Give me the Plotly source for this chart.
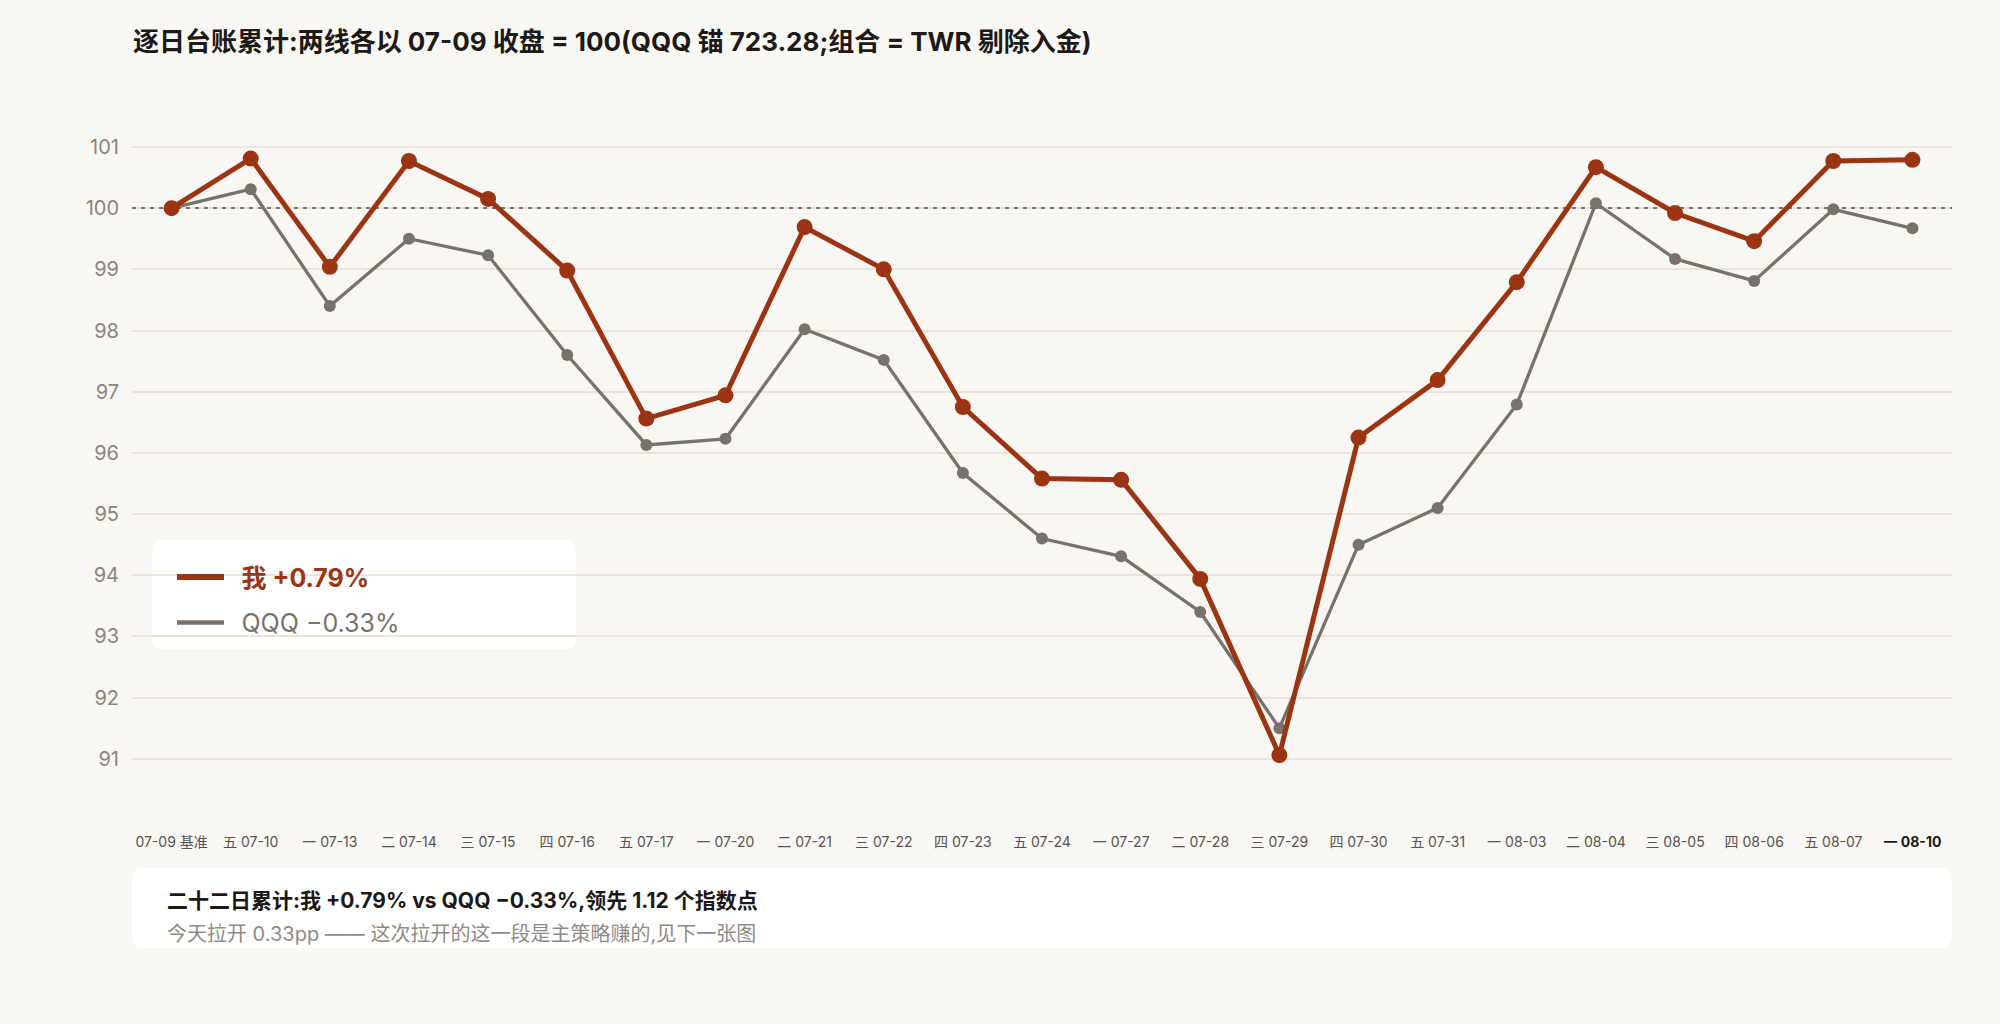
import plotly.graph_objects as go

# 日期标签(含星期)
days = ['07-09 基准', '五 07-10', '一 07-13', '二 07-14', '三 07-15', '四 07-16',
        '五 07-17', '一 07-20', '二 07-21', '三 07-22', '四 07-23', '五 07-24',
        '一 07-27', '二 07-28', '三 07-29', '四 07-30', '五 07-31', '一 08-03',
        '二 08-04', '三 08-05', '四 08-06', '五 08-07', '一 08-10']

# 我的组合 (TWR, 07-09 = 100)
me = [100, 100.81, 99.04, 100.77, 100.15, 98.98, 96.56, 96.94, 99.69, 99.00,
      96.75, 95.58, 95.56, 93.94, 91.06, 96.25, 97.19, 98.79, 100.67, 99.92,
      99.46, 100.77, 100.79]

# QQQ (07-09 收盘 723.28 = 100)
qqq = [100, 100.31, 98.40, 99.50, 99.23, 97.60, 96.13, 96.23, 98.02, 97.52,
       95.67, 94.60, 94.31, 93.40, 91.50, 94.50, 95.10, 96.79, 100.08, 99.17,
       98.81, 99.98, 99.67]

yticks = [91, 92, 93, 94, 95, 96, 97, 98, 99, 100, 101]
base = [100]

RED = '#9a3412'
GRAY = '#78716c'
BG = '#f9f7f3'
FONT = "Inter, 'Noto Sans CJK SC', sans-serif"
YRANGE = [90.0, 101.8]

ticktext = days[:-1] + ["<b><span style='color:#1c1917'>" + days[-1] + "</span></b>"]


def rrect(x0, y0, x1, y1, r):
    # rounded rectangle path in pixels (y up)
    return (f"M{x0 + r},{y0} L{x1 - r},{y0} Q{x1},{y0} {x1},{y0 + r} "
            f"L{x1},{y1 - r} Q{x1},{y1} {x1 - r},{y1} L{x0 + r},{y1} "
            f"Q{x0},{y1} {x0},{y1 - r} L{x0},{y0 + r} Q{x0},{y0} {x0 + r},{y0} Z")


fig = go.Figure()
# empty trace so the overlay axis (100 baseline) gets drawn
fig.add_trace(go.Scatter(x=[None], y=[None], yaxis='y2', showlegend=False, hoverinfo='skip'))
fig.add_trace(go.Scatter(
    x=days, y=qqq, mode='lines+markers', name='QQQ',
    line=dict(color=GRAY, width=3.3), marker=dict(color=GRAY, size=12),
    showlegend=False))
fig.add_trace(go.Scatter(
    x=days, y=me, mode='lines+markers', name='我',
    line=dict(color=RED, width=5), marker=dict(color=RED, size=16),
    showlegend=False))

# legend entries (line only, no marker)
fig.add_trace(go.Scatter(
    x=[None], y=[None], mode='lines',
    name="<span style='color:#9a3412'><b>\u2002我 +0.79%</b></span>",
    line=dict(color=RED, width=6), legendrank=1, legendgroup='a'))
fig.add_trace(go.Scatter(
    x=[None], y=[None], mode='lines',
    name="<span style='color:#78716c'>\u2002QQQ −0.33%</span>",
    line=dict(color=GRAY, width=4.5), legendrank=2, legendgroup='b'))

# 图例底框
fig.add_shape(type='path', xref='paper', yref='paper', xsizemode='pixel', ysizemode='pixel',
              xanchor=0, yanchor=0, path=rrect(20, 171, 444, 280, 12),
              fillcolor='white', line=dict(width=0), layer='between')

# 底部说明框
fig.add_shape(type='path', xref='paper', yref='paper', xsizemode='pixel', ysizemode='pixel',
              xanchor=0, yanchor=0, path=rrect(0, -128, 1820, -48, 12),
              fillcolor='white', line=dict(width=0), layer='below')

fig.add_annotation(xref='paper', yref='paper', x=0.0181, y=-0.1118, xanchor='left', yanchor='middle',
                   text='<b>二十二日累计:我 +0.79% vs QQQ −0.33%,领先 1.12 个指数点</b>',
                   showarrow=False, font=dict(size=21, color='#1c1917', family=FONT))
fig.add_annotation(xref='paper', yref='paper', x=0.0181, y=-0.1574, xanchor='left', yanchor='middle',
                   text='今天拉开 0.33pp —— 这次拉开的这一段是主策略赚的,见下一张图',
                   showarrow=False, font=dict(size=20, color='#8f8a85', family=FONT))

fig.update_layout(
    width=2000, height=1024,
    paper_bgcolor=BG, plot_bgcolor=BG,
    font=dict(family=FONT),
    margin=dict(l=132, r=48, t=98, b=204),
    title=dict(text='<b>逐日台账累计:两线各以 07-09 收盘 = 100(QQQ 锚 723.28;组合 = TWR 剔除入金)</b>',
               x=133 / 2000, xanchor='left', xref='container',
               y=1 - 42 / 1024, yanchor='middle', yref='container',
               font=dict(size=26, color='#1c1917', family=FONT)),
    showlegend=True,
    legend=dict(x=(172 - 132) / 1820, y=0.368, xanchor='left', yanchor='top',
                bgcolor='rgba(0,0,0,0)', font=dict(size=25, family=FONT),
                itemwidth=47, tracegroupgap=10, traceorder='grouped'),
    hovermode='x unified',
    # 100 基准虚线:叠加轴的网格线
    yaxis2=dict(overlaying='y', anchor='x', range=YRANGE, tickvals=base,
                showticklabels=False, showgrid=True, gridcolor='#7a726c',
                gridwidth=2, griddash='4px,5px', zeroline=False, showline=False),
)
fig.update_xaxes(type='category', range=[-0.5, 22.5], tickvals=days, ticktext=ticktext,
                 showgrid=False, zeroline=False, showline=False,
                 tickfont=dict(size=14, color='#57534e', family=FONT), ticklabelstandoff=12)
fig.update_layout(yaxis=dict(range=YRANGE, tickvals=yticks, showgrid=True,
                             gridcolor='#ebe4d9', gridwidth=1.5, zeroline=False, showline=False,
                             tickfont=dict(size=20, color='#8a8480', family=FONT),
                             ticklabelstandoff=12))

fig.write_html("out.html", config={'displayModeBar': False},
               post_script="document.body.style.margin='0';document.body.style.background='#f9f7f3';")
